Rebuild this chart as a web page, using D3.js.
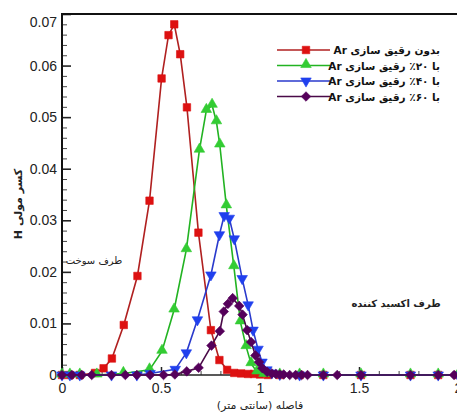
<!DOCTYPE html>
<html>
<head>
<meta charset="utf-8">
<script src="https://cdn.jsdelivr.net/npm/d3@7"></script>
<style>
html,body{margin:0;padding:0;background:#fff;overflow:hidden;}
svg{display:block;}
</style>
</head>
<body>
<svg id="chart" width="457" height="412"></svg>
<script>
// ---- data ----
const seriesNames = ["بدون رقیق سازی Ar", "با ۲۰٪ رقیق سازی Ar", "با ۴۰٪ رقیق سازی Ar", "با ۶۰٪ رقیق سازی Ar"];

const redX = [0, 0.04, 0.09, 0.167, 0.21, 0.252, 0.312, 0.381, 0.442, 0.503, 0.538, 0.567, 0.597, 0.631, 0.689, 0.752, 0.795, 0.834, 0.87, 0.905, 0.94, 0.97, 1.0, 1.04, 1.1, 1.2, 1.32, 1.51, 1.76, 1.9, 2.0];
const redY = [0, 0, 0, 0.0004, 0.0013, 0.0032, 0.0097, 0.0192, 0.0338, 0.0575, 0.0659, 0.0680, 0.0622, 0.0519, 0.0276, 0.0087, 0.0029, 0.0010, 0.0004, 0.0003, 0.0002, 0.0002, 0.0001, 0, 0, 0, 0, 0, 0, 0, 0];

const greenX = [0, 0.04, 0.09, 0.176, 0.31, 0.442, 0.505, 0.566, 0.628, 0.694, 0.729, 0.758, 0.78, 0.797, 0.83, 0.868, 0.901, 0.93, 0.955, 0.985, 1.02, 1.1, 1.2, 1.32, 1.51, 1.76, 1.9, 2.0];
const greenY = [0, 0, 0, 0, 0.0003, 0.0010, 0.0046, 0.0126, 0.0243, 0.0436, 0.0513, 0.0523, 0.0491, 0.0446, 0.0328, 0.0210, 0.0103, 0.0055, 0.0022, 0.0006, 0.0001, 0, 0, 0, 0, 0, 0, 0];

const blueX = [0, 0.04, 0.09, 0.25, 0.378, 0.445, 0.572, 0.628, 0.684, 0.752, 0.795, 0.819, 0.845, 0.87, 0.91, 0.94, 0.965, 0.99, 1.01, 1.035, 1.06, 1.1, 1.2, 1.32, 1.51, 1.76, 1.9, 2.0];
const blueY = [0, 0, 0, 0, 0, 0.0003, 0.0011, 0.0043, 0.0107, 0.0194, 0.0272, 0.0309, 0.0304, 0.0264, 0.0187, 0.0136, 0.0087, 0.0050, 0.0025, 0.0010, 0.0004, 0.0001, 0, 0, 0, 0, 0, 0];

const purpleX = [0, 0.05, 0.1, 0.15, 0.25, 0.32, 0.378, 0.445, 0.513, 0.57, 0.63, 0.69, 0.755, 0.797, 0.817, 0.838, 0.862, 0.895, 0.912, 0.935, 0.955, 0.977, 0.995, 1.012, 1.036, 1.06, 1.08, 1.1, 1.12, 1.15, 1.18, 1.21, 1.24, 1.32, 1.39, 1.51, 1.76, 1.9, 1.98];
const purpleY = [0, 0, 0, 0, 0, 0, 0, 0, 0, 0.0001, 0.0007, 0.0014, 0.0057, 0.0085, 0.0123, 0.0138, 0.0149, 0.0134, 0.0117, 0.0087, 0.0064, 0.0038, 0.0025, 0.0013, 0.0006, 0.0003, 0.0002, 0.0001, 0.0001, 0, 0, 0, 0, 0, 0, 0, 0, 0, 0];

const xMajor = [0, 0.5, 1, 1.5, 2];
const xMajorLabels = ["0", "0.5", "1", "1.5", "2"];
const xMinor = [0.1,0.2,0.3,0.4,0.6,0.7,0.8,0.9,1.1,1.2,1.3,1.4,1.6,1.7,1.8,1.9];
const yMajor = [0, 0.01, 0.02, 0.03, 0.04, 0.05, 0.06, 0.07];
const yMajorLabels = ["0", "0.01", "0.02", "0.03", "0.04", "0.05", "0.06", "0.07"];
const yMinor = d3.range(0, 35).map(i => i * 0.002).filter(v => Math.abs(v / 0.01 - Math.round(v / 0.01)) > 1e-6);

const xLabel = "فاصله (سانتی متر)";
const yLabel = "کسر مولی H";
const noteFuel = "طرف سوخت";
const noteOx = "طرف اکسید کننده";

// ---- chart ----
const svg = d3.select("#chart");
const x = d3.scaleLinear().domain([0, 2]).range([62, 458]);
const y = d3.scaleLinear().domain([0, 0.07]).range([375, 14]);

const styles = [
  {line: "#b02020", fill: "#dd1111", sym: "square"},
  {line: "#22b322", fill: "#33cc33", sym: "tri"},
  {line: "#2a3acc", fill: "#2040ee", sym: "tridown"},
  {line: "#4a0a48", fill: "#55005a", sym: "diamond"}
];
const series = [
  {xs: redX, ys: redY},
  {xs: greenX, ys: greenY},
  {xs: blueX, ys: blueY},
  {xs: purpleX, ys: purpleY}
];

function symbolPath(kind) {
  if (kind === "square") return d3.symbol(d3.symbolSquare, 56)();
  if (kind === "tri" || kind === "tridown") return d3.symbol(d3.symbolTriangle, 48)();
  return d3.symbol(d3.symbolSquare, 46)();
}
function symbolTransform(kind, px, py) {
  if (kind === "tridown") return `translate(${px},${py}) rotate(180)`;
  if (kind === "diamond") return `translate(${px},${py}) rotate(45)`;
  if (kind === "tri") return `translate(${px},${py - 1})`;
  return `translate(${px},${py})`;
}

// axes ticks
const axY = svg.append("g").attr("transform", `translate(${x(0)},0)`)
  .call(d3.axisLeft(y).tickValues(yMajor).tickSizeInner(-9).tickSizeOuter(0).tickPadding(5)
    .tickFormat((d, i) => yMajorLabels[i]));
axY.select(".domain").remove();
axY.selectAll("line").attr("stroke", "#222").attr("stroke-width", 1.6);
axY.selectAll("text").attr("font-family", "Liberation Sans, Arial, sans-serif").attr("font-size", 14).attr("fill", "#222")
  .attr("dy", (d) => d === 0.07 ? "0.9em" : "0.32em");

const axYm = svg.append("g").attr("transform", `translate(${x(0)},0)`)
  .call(d3.axisLeft(y).tickValues(yMinor).tickSizeInner(-5).tickSizeOuter(0).tickFormat(""));
axYm.select(".domain").remove();
axYm.selectAll("line").attr("stroke", "#444").attr("stroke-width", 1);

const axX = svg.append("g").attr("transform", `translate(0,${y(0)})`)
  .call(d3.axisBottom(x).tickValues(xMajor).tickSizeInner(-8).tickSizeOuter(0).tickPadding(8)
    .tickFormat((d, i) => xMajorLabels[i]));
axX.select(".domain").remove();
axX.selectAll("line").attr("stroke", "#222").attr("stroke-width", 1.5);
axX.selectAll("text").attr("font-family", "Liberation Sans, Arial, sans-serif").attr("font-size", 14).attr("fill", "#222");

const axXm = svg.append("g").attr("transform", `translate(0,${y(0)})`)
  .call(d3.axisBottom(x).tickValues(xMinor).tickSizeInner(-4).tickSizeOuter(0).tickFormat(""));
axXm.select(".domain").remove();
axXm.selectAll("line").attr("stroke", "#444").attr("stroke-width", 1);

// frame
svg.append("line").attr("x1", x(0)).attr("x2", 460).attr("y1", y(0.07)).attr("y2", y(0.07))
  .attr("stroke", "#111").attr("stroke-width", 2);
svg.append("line").attr("x1", x(0)).attr("x2", x(0)).attr("y1", y(0.07) - 1).attr("y2", y(0) + 1)
  .attr("stroke", "#111").attr("stroke-width", 2);
svg.append("line").attr("x1", x(0)).attr("x2", 460).attr("y1", y(0)).attr("y2", y(0))
  .attr("stroke", "#222").attr("stroke-width", 1.6);

// series
const lineGen = d3.line().x(d => x(d[0])).y(d => y(d[1]));
series.forEach((s, i) => {
  const pts = s.xs.map((v, k) => [v, s.ys[k]]);
  const st = styles[i];
  svg.append("path").datum(pts).attr("d", lineGen).attr("fill", "none")
    .attr("stroke", st.line).attr("stroke-width", 1.6);
  svg.append("g").selectAll("path").data(pts).join("path")
    .attr("d", symbolPath(st.sym))
    .attr("transform", d => symbolTransform(st.sym, x(d[0]), y(d[1])))
    .attr("fill", st.fill).attr("stroke", st.fill).attr("stroke-width", 0.6);
});

// legend
const persianFont = "DejaVu Sans, Noto Sans, sans-serif";
const leg = svg.append("g");
seriesNames.forEach((name, i) => {
  const ly = 50 + i * 15.5;
  const st = styles[i];
  leg.append("line").attr("x1", 277).attr("x2", 330).attr("y1", ly).attr("y2", ly)
    .attr("stroke", st.line).attr("stroke-width", 1.6);
  leg.append("path").attr("d", symbolPath(st.sym))
    .attr("transform", symbolTransform(st.sym, 306, ly))
    .attr("fill", st.fill).attr("stroke", st.fill).attr("stroke-width", 0.6);
  leg.append("text").attr("x", 440).attr("y", ly + 4).attr("text-anchor", "start")
    .attr("direction", "rtl").attr("font-family", persianFont).attr("font-size", 10.5)
    .attr("font-weight", "bold").attr("fill", "#111").text(name);
});

// annotations
svg.append("text").attr("x", 94).attr("y", 264).attr("text-anchor", "middle").attr("direction", "rtl")
  .attr("font-family", persianFont).attr("font-size", 10).attr("fill", "#222").text(noteFuel);
svg.append("text").attr("x", 396).attr("y", 307).attr("text-anchor", "middle").attr("direction", "rtl")
  .attr("font-family", persianFont).attr("font-size", 10).attr("font-weight", "bold").attr("fill", "#222").text(noteOx);

// axis labels
svg.append("text").attr("x", 260).attr("y", 409).attr("text-anchor", "middle").attr("direction", "rtl")
  .attr("font-family", persianFont).attr("font-size", 11).attr("fill", "#222").text(xLabel);
svg.append("text").attr("transform", "translate(22,204) rotate(-90)").attr("text-anchor", "middle").attr("direction", "rtl")
  .attr("font-family", persianFont).attr("font-size", 11).attr("font-weight", "bold").attr("fill", "#222").text(yLabel);
</script>
</body>
</html>
